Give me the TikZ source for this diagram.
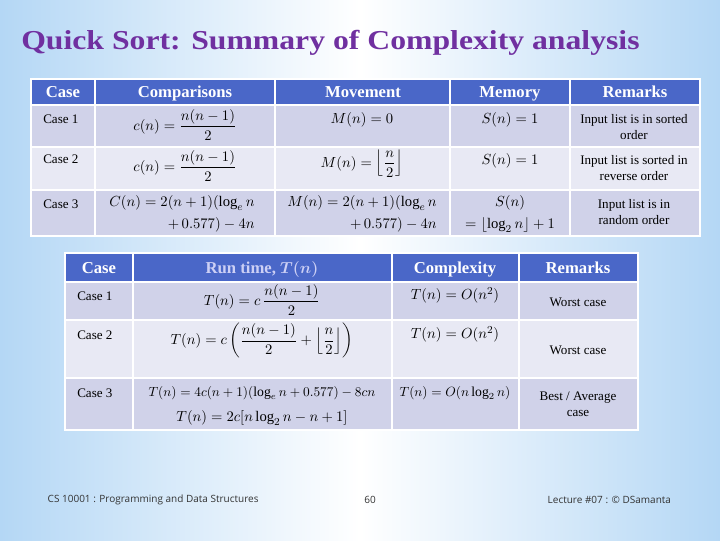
\documentclass[tikz,border=0pt]{standalone}
\usepackage{amsmath}
\usepackage{fontspec}
\setmainfont{Liberation Serif}
\newfontfamily\footfont{Open Sans}
\definecolor{hdr}{RGB}{74,103,200}
\definecolor{rowA}{RGB}{208,210,233}
\definecolor{rowB}{RGB}{232,233,244}
\definecolor{ttl}{RGB}{112,48,160}
\definecolor{bgb}{RGB}{180,215,245}
\definecolor{pale}{RGB}{205,208,245}
\begin{document}
\begin{tikzpicture}[x=0.75pt,y=-0.75pt,
  cellA/.style={fill=rowA,draw=white,line width=1.2pt},
  cellB/.style={fill=rowB,draw=white,line width=1.2pt},
  cellH/.style={fill=hdr,draw=white,line width=1.2pt},
  hd/.style={text=white,font=\fontsize{12.5}{14}\selectfont\bfseries,anchor=base,inner sep=0pt},
  tx/.style={font=\fontsize{9.8}{11}\selectfont,inner sep=0pt},
  mt/.style={font=\fontsize{11}{17}\selectfont,inner sep=0pt,anchor=north},
  rm/.style={font=\fontsize{9.8}{12}\selectfont,align=center,inner sep=0pt},
  ft/.style={font=\footfont\fontsize{7.5}{9}\selectfont,text=black!80}]
\useasboundingbox (0,0) rectangle (720,540);
\shade[left color=bgb,right color=bgb,middle color=white] (0,0) rectangle (720,540);
\node[font=\fontsize{20.5}{24}\selectfont\bfseries,text=ttl,anchor=base west,inner sep=0pt,xscale=1.16] (title) at (21,49) {Quick Sort: Summary of Complexity analysis};
% top table
\foreach \xa/\xb in {31/95,95/275,275/450,450/570,570/700}{
 \path[cellH] (\xa,79) rectangle (\xb,105);
 \path[cellA] (\xa,105) rectangle (\xb,147);
 \path[cellB] (\xa,147) rectangle (\xb,190);
 \path[cellA] (\xa,190) rectangle (\xb,236);}
\node[hd] (h1) at (63,97) {Case};
\node[hd] (h2) at (185,97) {Comparisons};
\node[hd] (h3) at (363,97) {Movement};
\node[hd] (h4) at (510,97) {Memory};
\node[hd] (h5) at (635,97) {Remarks};
\node[tx,anchor=west] (c1) at (43,119) {Case 1};
\node[tx,anchor=west] (c2) at (43,159) {Case 2};
\node[tx,anchor=west] (c3) at (43,204) {Case 3};
\node[mt] (m11) at (185,109) {$c(n)=\dfrac{n(n-1)}{2}$};
\node[mt] (m12) at (362,112) {$M(n)=0$};
\node[mt] (m13) at (510,112) {$S(n)=1$};
\node[rm] (r1) at (634,127) {Input list is in sorted\\order};
\node[mt] (m21) at (185,150) {$c(n)=\dfrac{n(n-1)}{2}$};
\node[mt] (m22) at (362,150) {$M(n)=\left\lfloor\dfrac{n}{2}\right\rfloor$};
\node[mt] (m23) at (510,153) {$S(n)=1$};
\node[rm] (r2) at (634,168) {Input list is sorted in\\reverse order};
\node[mt,align=right] (m31) at (182,195) {$C(n)=2(n+1)(\log_e n$\\$+\,0.577)-4n$};
\node[mt,align=right] (m32) at (362,195) {$M(n)=2(n+1)(\log_e n$\\$+\,0.577)-4n$};
\node[mt,align=center] (m33) at (510,195) {$S(n)$\\$=\lfloor\log_2 n\rfloor+1$};
\node[rm] (r3) at (634,212) {Input list is in\\random order};
% bottom table
\foreach \xa/\xb in {65/133,133/392,392/519,519/638}{
 \path[cellH] (\xa,253) rectangle (\xb,282);
 \path[cellA] (\xa,282) rectangle (\xb,320);
 \path[cellB] (\xa,320) rectangle (\xb,378);
 \path[cellA] (\xa,378) rectangle (\xb,430);}
\node[hd] (g1) at (99,273) {Case};
\node[hd,text=pale] (g2) at (262,273) {Run time, $\boldsymbol{T(n)}$};
\node[hd] (g3) at (455,273) {Complexity};
\node[hd] (g4) at (578,273) {Remarks};
\node[tx,anchor=west] (d1) at (77,296) {Case 1};
\node[tx,anchor=west] (d2) at (77,335) {Case 2};
\node[tx,anchor=west] (d3) at (77,393) {Case 3};
\node[mt] (n11) at (262,284) {$T(n)=c\,\dfrac{n(n-1)}{2}$};
\node[mt] (n12) at (455,287) {$T(n)=O(n^2)$};
\node[rm] (s1) at (578,302) {Worst case};
\node[mt] (n21) at (262,323) {$T(n)=c\left(\dfrac{n(n-1)}{2}+\left\lfloor\dfrac{n}{2}\right\rfloor\right)$};
\node[mt] (n22) at (455,326) {$T(n)=O(n^2)$};
\node[rm] (s2) at (578,350) {Worst case};
\node[mt,font=\fontsize{10.3}{14}\selectfont] (n31) at (262,386) {$T(n)=4c(n+1)(\log_e n+0.577)-8cn$};
\node[mt] (n32) at (262,410) {$T(n)=2c[n\log_2 n-n+1]$};
\node[mt,font=\fontsize{10.3}{14}\selectfont] (n33) at (455,386) {$T(n)=O(n\log_2 n)$};
\node[rm] (s3) at (578,404) {Best / Average\\case};
% footer
\node[ft,anchor=west] (f1) at (43,500) {CS 10001 : Programming and Data Structures};
\node[ft] (f2) at (370,500) {60};
\node[ft,anchor=west] (f3) at (543,500) {Lecture \#07 : \textcopyright\ DSamanta};
\end{tikzpicture}
\end{document}
